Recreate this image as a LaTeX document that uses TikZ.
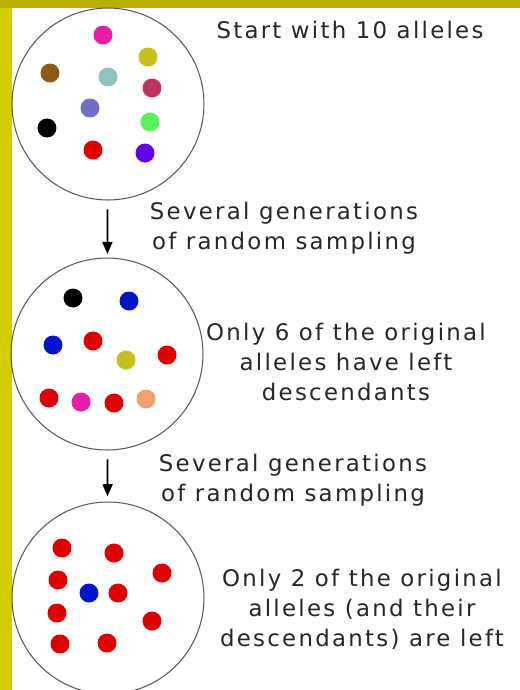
\documentclass[tikz,border=0pt]{standalone}
\usepackage{fontspec}
\setmainfont{DejaVu Sans}
\newfontfamily\slidefont[LetterSpace=10]{DejaVu Sans}
\usetikzlibrary{arrows.meta, positioning}

\definecolor{stripyellow}{RGB}{212,206,0}
\definecolor{stripolive}{RGB}{186,176,0}
\definecolor{alMagenta}{RGB}{232,30,170}
\definecolor{alOlive}{RGB}{200,190,30}
\definecolor{alBrown}{RGB}{140,90,20}
\definecolor{alTeal}{RGB}{140,195,190}
\definecolor{alCrimson}{RGB}{190,50,100}
\definecolor{alSlate}{RGB}{110,110,200}
\definecolor{alGreen}{RGB}{90,240,90}
\definecolor{alRed}{RGB}{222,0,0}
\definecolor{alViolet}{RGB}{100,0,230}
\definecolor{alBlue}{RGB}{0,20,200}
\definecolor{alSalmon}{RGB}{240,160,110}

\begin{document}
\begin{tikzpicture}[
  x=0.02cm, y=-0.02cm,
  pool/.style={circle, draw=black!65, line width=0.6pt, inner sep=0pt, minimum size=3.84cm},
  allele/.style={circle, inner sep=0pt, minimum size=0.38cm},
  caption/.style={font=\slidefont\fontsize{13}{17}\selectfont, text=black!85, align=center},
  arrow/.style={-{Triangle[length=2.4mm, width=2mm]}, line width=1pt}
]
\useasboundingbox (0,0) rectangle (520,690);
\clip (0,0) rectangle (520,690);

% Rahmen
\fill[white] (0,0) rectangle (520,690);
\fill[stripyellow] (0,0) rectangle (12,690);
\fill[stripolive] (0,0) rectangle (520,8);

% Populationen
\node[pool] (pool1) at (108,104) {};
\node[pool] (pool2) at (107,354) {};
\node[pool] (pool3) at (108,598) {};

% Allele: Start
\foreach \x/\y/\c [count=\i] in {103/35/alMagenta, 148/57/alOlive, 50/73/alBrown,
    108/77/alTeal, 152/88/alCrimson, 90/108/alSlate, 150/122/alGreen,
    47/128/black, 93/150/alRed, 145/153/alViolet}
  \node[allele, fill=\c] (a\i) at (\x,\y) {};

% Allele: nach Drift
\foreach \x/\y/\c [count=\i] in {73/298/black, 129/301/alBlue, 53/345/alBlue,
    93/341/alRed, 126/360/alOlive, 167/355/alRed, 49/398/alRed,
    81/402/alMagenta, 114/403/alRed, 146/399/alSalmon}
  \node[allele, fill=\c] (b\i) at (\x,\y) {};

% Allele: Ende
\foreach \x/\y/\c [count=\i] in {62/548/alRed, 114/553/alRed, 162/573/alRed,
    58/580/alRed, 89/593/alBlue, 118/593/alRed, 57/613/alRed,
    152/621/alRed, 60/644/alRed, 107/643/alRed}
  \node[allele, fill=\c] (c\i) at (\x,\y) {};

% Texte
\node[caption] (start) at (350,30) {Start with 10 alleles};
\node[caption] (drift1) at (284,228) {Several generations\\of random sampling};
\node[caption] (six) at (346,362) {Only 6 of the original\\alleles have left\\descendants};
\node[caption] (drift2) at (293,480) {Several generations\\of random sampling};
\node[caption] (two) at (362,609) {Only 2 of the original\\alleles (and their\\descendants) are left};

% Pfeile
\draw[arrow, shorten <=5pt, shorten >=2pt] (pool1) -- (pool2);
\draw[arrow, shorten <=5pt, shorten >=3pt] (pool2) -- (pool3);

\end{tikzpicture}
\end{document}
